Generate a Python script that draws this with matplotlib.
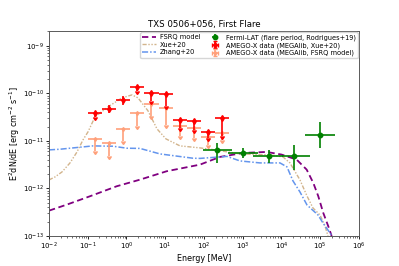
import matplotlib

matplotlib.use("Agg")
import matplotlib.pyplot as plt
import numpy as np

plt.rcParams["lines.markersize"] = 2.5

# model curves as (log10 E [MeV], log10 E^2 dN/dE)
fsrq_logE = [-2.0, -1.543, -0.942, -0.253, 0.348, 1.037, 1.897, 2.413, 3.014, 3.618,
             4.005, 4.392, 4.650, 4.821, 4.950, 5.079, 5.208, 5.295]
fsrq_logF = [-12.467, -12.341, -12.164, -11.954, -11.815, -11.638, -11.499, -11.337, -11.253, -11.232,
             -11.288, -11.394, -11.604, -11.884, -12.164, -12.516, -12.796, -13.0]

xue_logE = [-2.0, -1.845, -1.665, -1.458, -1.277, -1.123, -0.994, -0.813, -0.477, -0.116, 0.142,
            0.297, 0.555, 0.787, 1.019, 1.381, 1.897, 2.284, 2.929, 3.703, 4.039, 4.219, 4.477,
            4.658, 4.813, 4.994, 5.123, 5.2]
xue_logF = [-11.821, -11.758, -11.653, -11.463, -11.232, -10.979, -10.811, -10.495, -10.284, -10.095,
            -10.032, -10.095, -10.368, -10.747, -10.958, -11.105, -11.147, -11.189, -11.274, -11.295,
            -11.337, -11.463, -11.821, -12.158, -12.411, -12.558, -12.789, -13.0]

zhang_logE = [-2.0, -1.716, -0.865, -0.348, 0.013, 0.348, 0.865, 1.716, 1.897, 2.594, 2.929, 3.445,
              3.961, 4.142, 4.297, 4.477, 4.658, 4.942, 5.071, 5.252, 5.303]
zhang_logF = [-11.189, -11.175, -11.105, -11.112, -11.154, -11.158, -11.274, -11.364, -11.368, -11.326,
              -11.421, -11.463, -11.463, -11.547, -11.842, -12.074, -12.347, -12.558, -12.726, -12.937, -13.0]

# AMEGO-X bins [MeV]
bin_lo = [0.101, 0.233, 0.536, 1.23, 2.83, 6.90, 15.8, 36.4, 83.7, 192]
bin_hi = [0.233, 0.536, 1.23, 2.83, 6.90, 15.8, 36.4, 83.7, 192, 442]
bin_c = [0.152, 0.353, 0.818, 1.90, 4.39, 10.2, 23.6, 54.6, 127, 293]

# AMEGO-X, Xue+20 spectrum
xue_flux = [3.8e-11, 4.8e-11, 7.3e-11, 1.35e-10, 1.0e-10, 9.6e-11, 2.75e-11, 2.65e-11, 1.55e-11, 3.0e-11]
xue_low = [3.13e-11, 3.95e-11, 5.6e-11, 1.11e-10, 6.86e-11, 5.38e-11, 1.85e-11, 1.73e-11, 1.16e-11, 1.26e-11]
xue_ul = [True, False, False, True, True, True, True, True, True, True]

# AMEGO-X, FSRQ model spectrum (all upper limits)
fsrq_flux = [1.10e-11, 9.2e-12, 1.76e-11, 3.94e-11, 6.0e-11, 4.88e-11, 2.07e-11, 1.88e-11, 1.23e-11, 1.5e-11]
fsrq_low = [6.07e-12, 4.76e-12, 9.87e-12, 2.04e-11, 3.31e-11, 2.2e-11, 1.26e-11, 1.16e-11, 8.36e-12, 1.06e-11]

# Fermi-LAT flare
lat_E = [220, 1030, 4750, 21000, 98600]
lat_Elo = [96, 424, 1870, 10100, 40400]
lat_Ehi = [519, 2518, 11100, 54300, 240000]
lat_F = [6.37e-12, 5.59e-12, 4.76e-12, 4.91e-12, 1.34e-11]
lat_Flo = [3.44e-12, 4.39e-12, 3.44e-12, 2.49e-12, 7.0e-12]
lat_Fhi = [9.08e-12, 7.13e-12, 6.56e-12, 8.36e-12, 2.55e-11]

fig = plt.figure(figsize=(3.99, 2.66), dpi=100)
ax = fig.add_axes([0.1228, 0.1128, 0.7769, 0.7707])

l1, = ax.plot(10 ** np.array(fsrq_logE), 10 ** np.array(fsrq_logF), color="purple",
              ls=(0, (3.5, 2)), lw=1.3, label="FSRQ model")
l2, = ax.plot(10 ** np.array(xue_logE), 10 ** np.array(xue_logF), color="tan",
              ls=(0, (3, 1.2, 1, 1.2, 1, 1.2)), lw=1.0, label="Xue+20")
l3, = ax.plot(10 ** np.array(zhang_logE), 10 ** np.array(zhang_logF), color="cornflowerblue",
              ls=(0, (4, 1.3, 1, 1.3)), lw=1.1, label="Zhang+20")

c = np.array(bin_c)
xerr = [c - np.array(bin_lo), np.array(bin_hi) - c]

f = np.array(xue_flux)
low = np.array(xue_low)
ul = np.array(xue_ul)
yerr_lo = f - low
yerr_hi = np.where(ul, 0.0, f - low)
e2 = ax.errorbar(c, f, xerr=xerr, yerr=[yerr_lo, yerr_hi], uplims=ul, fmt="d", ms=3,
                 color="red", elinewidth=1.2, capsize=0, label="AMEGO-X data (MEGAlib, Xue+20)", zorder=4)

f = np.array(fsrq_flux)
e3 = ax.errorbar(c, f, xerr=xerr, yerr=f - np.array(fsrq_low), uplims=True, fmt="d", ms=2,
                 color="lightsalmon", elinewidth=1.2, capsize=0,
                 label="AMEGO-X data (MEGAlib, FSRQ model)", zorder=3)

E = np.array(lat_E)
F = np.array(lat_F)
e1 = ax.errorbar(E, F, xerr=[E - np.array(lat_Elo), np.array(lat_Ehi) - E],
                 yerr=[F - np.array(lat_Flo), np.array(lat_Fhi) - F], fmt="o", ms=3.2,
                 color="green", elinewidth=1.2, capsize=0,
                 label="Fermi-LAT (flare period, Rodrigues+19)", zorder=5)

ax.set_xscale("log")
ax.set_yscale("log")
ax.set_xlim(1e-2, 1e6)
ax.set_ylim(1e-13, 2.05e-9)
ax.set_xlabel("Energy [MeV]", fontsize=5.8, labelpad=1)
ax.set_ylabel(r"E$^2$dN/dE [erg cm$^{-2}$ s$^{-1}$]", fontsize=5.8, labelpad=1)
ax.set_title("TXS 0506+056, First Flare", fontsize=6.2, pad=3)
ax.tick_params(labelsize=5, length=2, width=0.6, pad=1.5)
ax.tick_params(which="minor", length=1.2, width=0.4)
for s in ax.spines.values():
    s.set_linewidth(0.7)
    s.set_color("0.35")

ax.legend(handles=[l1, l2, l3, e1, e2, e3], ncol=2, loc="upper right", fontsize=4.8,
          frameon=True, handlelength=2.0, columnspacing=1.2, handletextpad=0.6,
          borderaxespad=0.2, labelspacing=0.2, borderpad=0.3)

fig.savefig("out.png", dpi=100)
